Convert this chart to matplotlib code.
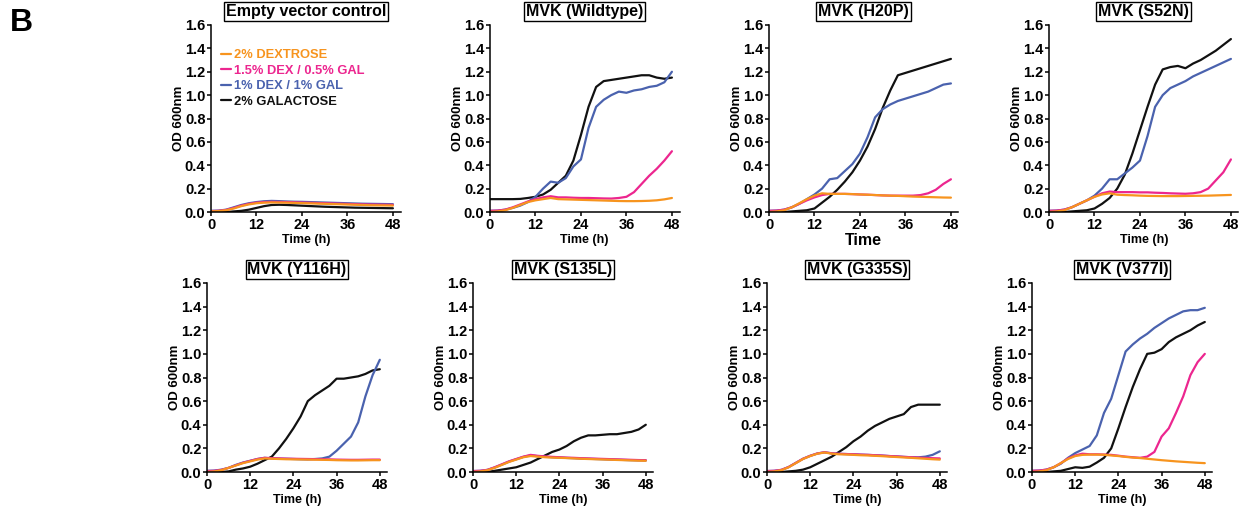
import matplotlib
matplotlib.use("Agg")
import matplotlib.pyplot as plt

plt.rcParams['font.family'] = ['Liberation Sans', 'DejaVu Sans']
plt.rcParams['font.weight'] = 'bold'

# time points (h)
t_hours = list(range(0, 49, 2))

# series names / colours
media = ["2% DEXTROSE", "1.5% DEX / 0.5% GAL", "1% DEX / 1% GAL", "2% GALACTOSE"]
colors = ["#F7941E", "#EC268F", "#4A62AE", "#111111"]

titles = ["Empty vector control", "MVK (Wildtype)", "MVK (H20P)", "MVK (S52N)",
          "MVK (Y116H)", "MVK (S135L)", "MVK (G335S)", "MVK (V377I)"]

# OD600 readings, every 2 h (dex, 1.5/0.5, 1/1, gal)
empty_dex = [.005,.008,.015,.03,.05,.065,.075,.08,.082,.081,.08,.078,.076,.074,.072,.07,.068,.066,.064,.062,.06,.058,.057,.056,.055]
empty_d15 = [.008,.01,.018,.035,.055,.07,.08,.085,.087,.086,.085,.083,.081,.079,.077,.075,.073,.071,.069,.067,.065,.064,.063,.062,.061]
empty_d1 = [.01,.012,.02,.04,.06,.075,.085,.092,.095,.093,.09,.088,.087,.085,.083,.081,.079,.077,.075,.073,.071,.07,.069,.068,.067]
empty_gal = [0,0,0,.005,.01,.02,.035,.05,.06,.062,.06,.057,.054,.051,.048,.045,.043,.041,.039,.037,.036,.035,.034,.033,.032]

wt_dex = [0,.005,.015,.035,.06,.085,.1,.11,.12,.11,.108,.106,.104,.102,.1,.098,.096,.094,.093,.093,.094,.096,.1,.108,.12]
wt_d15 = [.01,.012,.02,.04,.065,.09,.11,.125,.135,.125,.125,.122,.12,.12,.118,.116,.115,.12,.13,.17,.24,.31,.37,.44,.52]
wt_d1 = [.01,.012,.02,.035,.055,.085,.13,.2,.26,.25,.29,.39,.45,.72,.9,.96,1.0,1.03,1.02,1.04,1.05,1.07,1.08,1.11,1.2]
wt_gal = [.11,.11,.11,.11,.112,.12,.13,.15,.19,.25,.31,.44,.66,.9,1.07,1.12,1.13,1.14,1.15,1.16,1.17,1.17,1.15,1.14,1.15]

h20p_dex = [0,.005,.015,.04,.075,.11,.14,.16,.155,.155,.155,.153,.15,.148,.145,.142,.14,.138,.135,.132,.13,.128,.126,.124,.123]
h20p_d15 = [.01,.012,.02,.04,.07,.1,.125,.145,.155,.155,.155,.153,.15,.148,.145,.142,.14,.14,.14,.14,.145,.16,.19,.24,.28]
h20p_d1 = [.01,.012,.02,.04,.07,.11,.15,.2,.28,.29,.35,.41,.5,.64,.81,.88,.92,.95,.97,.99,1.01,1.03,1.06,1.09,1.1]
h20p_gal = [0,0,0,.005,.01,.015,.03,.08,.13,.19,.26,.34,.44,.56,.71,.89,1.04,1.17,1.19,1.21,1.23,1.25,1.27,1.29,1.31]

s52n_dex = [0,.005,.015,.04,.07,.1,.13,.15,.16,.148,.145,.143,.14,.138,.137,.136,.136,.136,.137,.138,.139,.14,.142,.144,.146]
s52n_d15 = [.01,.012,.02,.04,.07,.1,.13,.16,.175,.17,.17,.17,.168,.168,.165,.163,.16,.158,.156,.16,.17,.2,.27,.34,.45]
s52n_d1 = [.01,.012,.02,.04,.07,.1,.14,.2,.28,.28,.33,.38,.44,.65,.9,1.0,1.06,1.09,1.12,1.16,1.19,1.22,1.25,1.28,1.31]
s52n_gal = [0,0,0,.005,.01,.015,.03,.07,.12,.2,.32,.5,.7,.9,1.09,1.22,1.24,1.25,1.23,1.27,1.3,1.34,1.38,1.43,1.48]

y116h_dex = [0,.005,.015,.035,.055,.075,.09,.105,.115,.112,.11,.108,.107,.106,.105,.104,.103,.102,.1,.099,.098,.098,.099,.1,.1]
y116h_d15 = [.008,.01,.018,.035,.057,.078,.094,.11,.12,.117,.115,.113,.112,.111,.11,.109,.108,.107,.105,.104,.103,.103,.104,.105,.105]
y116h_d1 = [.01,.012,.02,.035,.06,.08,.095,.11,.12,.115,.113,.112,.11,.108,.107,.11,.115,.13,.18,.24,.3,.42,.64,.82,.95]
y116h_gal = [0,0,0,.005,.02,.03,.045,.07,.1,.13,.2,.28,.37,.47,.6,.65,.69,.73,.79,.79,.8,.81,.83,.86,.87]

s135l_dex = [0,.005,.015,.035,.06,.085,.105,.125,.135,.13,.125,.122,.12,.118,.115,.112,.11,.108,.106,.104,.102,.1,.098,.096,.095]
s135l_d15 = [.008,.01,.018,.04,.065,.09,.11,.13,.145,.137,.132,.128,.125,.122,.12,.117,.115,.113,.111,.109,.107,.105,.103,.101,.1]
s135l_d1 = [.008,.01,.018,.038,.062,.088,.108,.128,.14,.134,.129,.125,.122,.119,.117,.114,.112,.11,.108,.106,.104,.102,.1,.099,.098]
s135l_gal = [0,0,0,.01,.02,.03,.04,.06,.08,.11,.14,.17,.19,.22,.26,.29,.31,.31,.315,.32,.32,.33,.34,.36,.4]

g335s_dex = [0,.005,.015,.04,.075,.11,.135,.155,.165,.155,.15,.148,.145,.142,.14,.137,.134,.13,.127,.123,.12,.116,.112,.108,.105]
g335s_d15 = [.008,.01,.018,.042,.077,.112,.137,.157,.167,.158,.154,.152,.15,.147,.145,.142,.139,.135,.132,.128,.125,.122,.119,.117,.115]
g335s_d1 = [.008,.01,.018,.042,.077,.112,.137,.157,.167,.158,.154,.152,.15,.147,.145,.142,.139,.135,.132,.128,.125,.124,.13,.145,.175]
g335s_gal = [0,0,0,.005,.01,.02,.04,.07,.1,.13,.17,.21,.26,.3,.35,.39,.42,.45,.47,.49,.55,.57,.57,.57,.57]

v377i_dex = [0,.005,.015,.04,.075,.11,.135,.145,.147,.147,.146,.14,.135,.128,.122,.118,.112,.106,.1,.095,.09,.086,.082,.078,.075]
v377i_d15 = [.01,.012,.02,.04,.075,.115,.14,.155,.15,.15,.148,.145,.138,.13,.125,.12,.13,.17,.3,.37,.5,.64,.82,.93,1.0]
v377i_d1 = [.01,.012,.02,.04,.07,.12,.16,.19,.22,.31,.5,.62,.82,1.02,1.08,1.13,1.17,1.22,1.26,1.3,1.33,1.36,1.37,1.37,1.39]
v377i_gal = [0,0,0,.005,.01,.025,.04,.035,.045,.08,.12,.2,.37,.55,.72,.87,1.0,1.01,1.04,1.1,1.14,1.17,1.2,1.24,1.27]

panels = [
    (empty_dex, empty_d15, empty_d1, empty_gal),
    (wt_dex, wt_d15, wt_d1, wt_gal),
    (h20p_dex, h20p_d15, h20p_d1, h20p_gal),
    (s52n_dex, s52n_d15, s52n_d1, s52n_gal),
    (y116h_dex, y116h_d15, y116h_d1, y116h_gal),
    (s135l_dex, s135l_d15, s135l_d1, s135l_gal),
    (g335s_dex, g335s_d15, g335s_d1, g335s_gal),
    (v377i_dex, v377i_d15, v377i_d1, v377i_gal),
]

W, H = 1250, 508
fig = plt.figure(figsize=(W / 100, H / 100), dpi=100)

# axes boxes in pixels: left, top, width, height
row1 = [211, 490, 769, 1049]
row2 = [207, 473, 767, 1032]
boxes = [(x, 25, 189.5, 187) for x in row1] + [(x, 283, 180, 189) for x in row2]

for i, (box, title, series) in enumerate(zip(boxes, titles, panels)):
    x, top, w, h = box
    ax = fig.add_axes([x / W, (H - top - h) / H, w / W, h / H])
    # draw galactose first, dextrose on top
    for k in [3, 2, 1, 0]:
        ax.plot(t_hours, series[k], color=colors[k], lw=1.6, label=media[k],
                solid_capstyle='round')
    ax.set_xlim(0, 50)
    ax.set_ylim(0, 1.6)
    ax.set_xticks([0, 12, 24, 36, 48])
    ax.set_yticks([0, .2, .4, .6, .8, 1.0, 1.2, 1.4, 1.6])
    ax.set_yticklabels(["%.1f" % v for v in ax.get_yticks()])
    for s in ['top', 'right']:
        ax.spines[s].set_visible(False)
    for s in ['left', 'bottom']:
        ax.spines[s].set_linewidth(1.1)
    ax.tick_params(direction='out', length=3, width=1.1, labelsize=10.5, pad=1)
    ax.set_ylabel("OD 600nm", fontsize=9.5, fontweight='bold', labelpad=0)
    if i == 2:
        ax.set_xlabel("Time", fontsize=11.5, fontweight='bold', labelpad=1)
    else:
        ax.set_xlabel("Time (h)", fontsize=9, fontweight='bold', labelpad=2)
    ax.text(0.5, 1.03, title, transform=ax.transAxes, ha='center', va='bottom',
            fontsize=11.5, fontweight='bold',
            bbox=dict(boxstyle='square,pad=0.12', fc='white', ec='black', lw=1))
    if i == 0:
        hs, ls = ax.get_legend_handles_labels()
        order = [3, 2, 1, 0]
        ax.legend([hs[j] for j in order], [ls[j] for j in order],
                  loc='upper left', bbox_to_anchor=(0.055, 0.87),
                  frameon=False, handlelength=0.75, handletextpad=0.25,
                  labelspacing=0.26, borderaxespad=0, borderpad=0,
                  prop={'size': 9.3, 'weight': 'bold'},
                  labelcolor='linecolor')

fig.text(10 / W, 1 - 23 / H, "B", fontsize=23, fontweight='bold', va='center')

fig.savefig("out.png", dpi=100)
